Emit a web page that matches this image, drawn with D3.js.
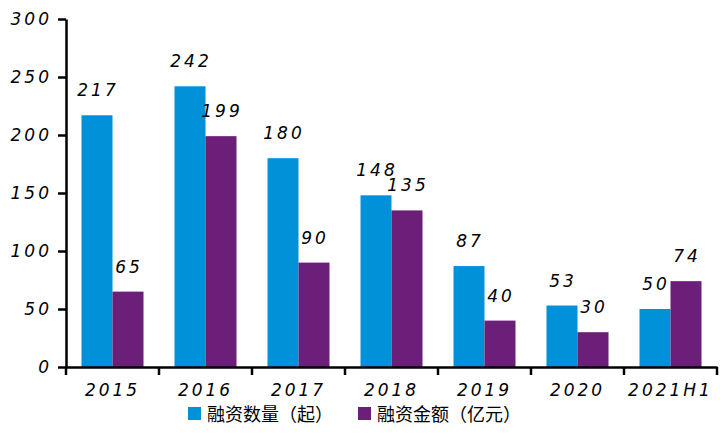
<!DOCTYPE html>
<html>
<head>
<meta charset="utf-8">
<script src="https://cdn.jsdelivr.net/npm/d3@7"></script>
<style>
  body { margin: 0; background: #fff; }
  .num { font-family: "DejaVu Sans", sans-serif; font-style: italic; font-size: 17px; letter-spacing: 3px; fill: #000; }
  .legend { font-family: "Noto Sans CJK SC", sans-serif; font-size: 18px; fill: #000; }
</style>
</head>
<body>
<svg id="chart" width="720" height="435"></svg>
<script>
/* chart data */
const years = ["2015", "2016", "2017", "2018", "2019", "2020", "2021H1"];
const dealCount = [217, 242, 180, 148, 87, 53, 50];
const dealAmount = [65, 199, 90, 135, 40, 30, 74];
const yTicks = [0, 50, 100, 150, 200, 250, 300];
const seriesNames = ["融资数量（起）", "融资金额（亿元）"];
const colors = ["#0091d9", "#6c1f78"];

const svg = d3.select("#chart");

/* scales */
const x = d3.scaleBand()
    .domain(years)
    .range([66, 717])
    .paddingInner(1 / 3)
    .paddingOuter(1 / 6);

const x1 = d3.scaleBand()
    .domain([0, 1])
    .range([0, x.bandwidth()]);

const y = d3.scaleLinear()
    .domain([0, 300])
    .range([367, 19]);

const rows = years.map((yr, i) => ({ year: yr, values: [dealCount[i], dealAmount[i]] }));

/* bars */
const groups = svg.append("g").selectAll("g")
    .data(rows)
    .join("g")
    .attr("transform", d => "translate(" + x(d.year) + ",0)");

groups.selectAll("rect")
    .data(d => d.values.map((v, k) => ({ k: k, v: v })))
    .join("rect")
    .attr("x", d => x1(d.k))
    .attr("y", d => y(d.v))
    .attr("width", x1.bandwidth())
    .attr("height", d => y(0) - y(d.v))
    .attr("fill", d => colors[d.k]);

groups.selectAll("text")
    .data(d => d.values.map((v, k) => ({ k: k, v: v })))
    .join("text")
    .attr("class", "num")
    .attr("x", d => x1(d.k) + x1.bandwidth() / 2 + 1)
    .attr("y", d => y(d.v) - 19)
    .attr("text-anchor", "middle")
    .text(d => d.v);

/* y axis */
const yAxis = d3.axisLeft(y)
    .tickValues(yTicks)
    .tickSize(8)
    .tickPadding(6)
    .tickSizeOuter(0);

const yG = svg.append("g")
    .attr("transform", "translate(66,0)")
    .call(yAxis);
yG.select(".domain").attr("stroke", "#000").attr("stroke-width", 2.5);
yG.selectAll(".tick line").attr("stroke", "#000").attr("stroke-width", 2.5);
yG.selectAll(".tick text").attr("class", "num").attr("dy", "0.35em");

/* x axis */
const xAxis = d3.axisBottom(x)
    .tickSize(0)
    .tickSizeOuter(0)
    .tickPadding(17);

const xG = svg.append("g")
    .attr("transform", "translate(0,367)")
    .call(xAxis);
xG.select(".domain").attr("stroke", "#000").attr("stroke-width", 2.5);
xG.selectAll(".tick text").attr("class", "num");

// tick marks sit on the band edges, not the centres
xG.selectAll(".edge")
    .data(d3.range(years.length + 1))
    .join("line")
    .attr("class", "edge")
    .attr("x1", i => x.range()[0] + x.step() * i)
    .attr("x2", i => x.range()[0] + x.step() * i)
    .attr("y1", 0)
    .attr("y2", 8)
    .attr("stroke", "#000")
    .attr("stroke-width", 2.5);

/* legend */
const legendX = [188, 358];
const legend = svg.append("g").selectAll("g")
    .data(seriesNames)
    .join("g")
    .attr("transform", (d, i) => "translate(" + legendX[i] + ",407)");

legend.append("rect")
    .attr("width", 13)
    .attr("height", 13)
    .attr("fill", (d, i) => colors[i]);

legend.append("text")
    .attr("class", "legend")
    .attr("x", 19)
    .attr("y", 14)
    .text(d => d);
</script>
</body>
</html>
